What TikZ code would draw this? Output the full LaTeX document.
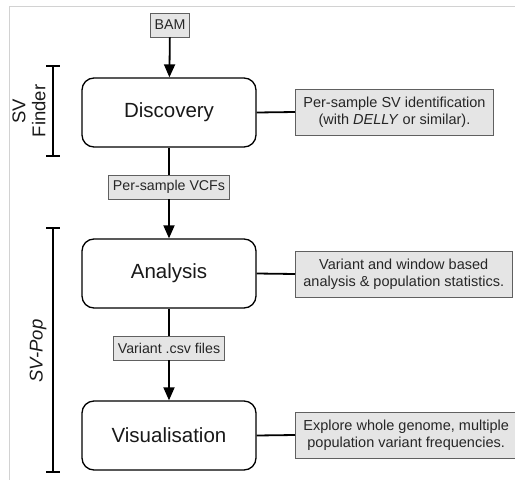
\documentclass[tikz,border=0pt]{standalone}
\usepackage{fontspec}
\setmainfont{Liberation Sans}
\usetikzlibrary{arrows.meta}
\begin{document}
\begin{tikzpicture}[x=1pt,y=-1pt,
 stage/.style={draw=black, line width=1.3pt, rounded corners=12pt, fill=white, minimum width=174pt, minimum height=69pt, font=\fontsize{20.5}{24}\selectfont, inner sep=0pt, text=black!90},
 tag/.style={draw=gray!75!black, fill=gray!20, line width=0.8pt, font=\fontsize{14.2}{16}\selectfont, minimum height=24pt, inner xsep=4.5pt, inner ysep=0pt, text=black!85},
 note/.style={draw=gray!75!black, fill=gray!20, line width=0.8pt, font=\fontsize{14.5}{17.5}\selectfont, align=center, minimum height=46pt, inner xsep=8pt, text=black!85},
 flow/.style={line width=1.8pt, -{Triangle[length=13pt,width=11pt]}},
 link/.style={line width=1.8pt},
 side/.style={font=\fontsize{18.5}{20}\selectfont, rotate=90, align=center, text=black!90}]
\useasboundingbox (0,0) rectangle (515,480);
\draw[gray!35, line width=1pt] (9,480) -- (9,6) -- (515,6);

\node[tag] (bam) at (170,25) {BAM};
\node[stage] (disc) at (169,112.5) {Discovery};
\node[tag] (vcf) at (169,187) {Per-sample VCFs};
\node[stage] (ana) at (169,273.5) {Analysis};
\node[tag] (csv) at (169,348) {Variant .csv files};
\node[stage] (vis) at (169,435.5) {Visualisation};

\node[note, anchor=west] (n1) at (295,112) {Per-sample SV identification\\(with \textit{DELLY} or similar).};
\node[note, anchor=west] (n2) at (295,274) {Variant and window based\\analysis \& population statistics.};
\node[note, anchor=west] (n3) at (295,435) {Explore whole genome, multiple\\population variant frequencies.};

\draw[flow] (bam) -- (disc);
\draw[link] (disc) -- (vcf);
\draw[flow] (vcf) -- (ana);
\draw[link] (ana) -- (csv);
\draw[flow] (csv) -- (vis);
\draw[link] (disc.east) -- (n1.west);
\draw[link] (ana.east) -- (n2.west);
\draw[link] (vis.east) -- (n3.west);

\draw[link] (46,66) -- (60,66) (53,66) -- (53,156) (46,156) -- (60,156);
\draw[link] (46,228) -- (60,228) (53,228) -- (53,472) (46,472) -- (60,472);
\node[side] (svf) at (29,111) {SV\\Finder};
\node[side] (svp) at (38,351) {\textit{SV-Pop}};
\end{tikzpicture}
\end{document}
